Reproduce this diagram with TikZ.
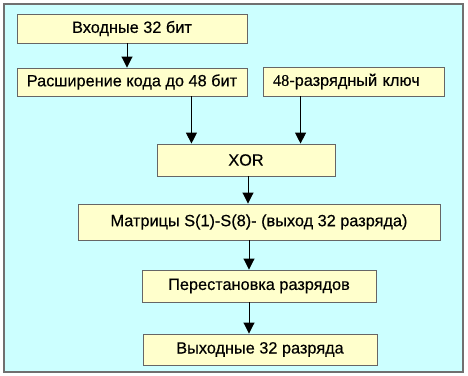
\documentclass[tikz,border=0pt]{standalone}
\usepackage{fontspec}
\setmainfont[FakeBold=0.4]{Liberation Sans}
\newfontfamily\serifnum[FakeBold=0.4]{Liberation Serif}
\usetikzlibrary{arrows.meta}
\definecolor{bgcyan}{HTML}{CCFFFF}
\definecolor{boxfill}{HTML}{FFFFCC}
\definecolor{boxline}{HTML}{666666}
\definecolor{frameline}{HTML}{707070}
\tikzset{
  blk/.style={draw=boxline, line width=0.9pt, fill=boxfill, inner sep=0pt,
    font=\fontsize{16.3}{19}\selectfont, text=black},
  arr/.style={draw=black, line width=0.9pt, -{Triangle[width=11pt,length=11pt]}}
}
\begin{document}
\begin{tikzpicture}[x=1pt,y=-1pt]
\useasboundingbox (0,0) rectangle (468,375);
\fill[white] (0,0) rectangle (468,375);
\draw[frameline, line width=2pt, fill=bgcyan] (3.5,4) rectangle (463,372);
\node[blk, minimum width=230pt, minimum height=29pt] (b1) at (132,28.5) {Входные 32 бит};
\node[blk, minimum width=230pt, minimum height=28pt] (b2) at (132,82) {Расширение кода до 48 бит};
\node[blk, minimum height=29pt, text width=161pt, inner xsep=10pt, align=left] (b3) at (353.5,81.5) {{\serifnum 48}-разрядный ключ};
\node[blk, minimum width=178pt, minimum height=32pt] (xor) at (246,160) {XOR};
\node[blk, minimum width=362pt, minimum height=36pt] (mat) at (259,222) {Матрицы S(1)-S(8)- (выход 32 разряда)};
\node[blk, minimum width=234pt, minimum height=32pt] (per) at (259,286) {Перестановка разрядов};
\node[blk, minimum width=234pt, minimum height=31pt] (out) at (260,349.5) {Выходные 32 разряда};
\draw[arr] ([xshift=-5pt]b1.south) -- ([xshift=-5pt]b1.south |- b2.north);
\draw[arr] ([xshift=-56pt]b2.south east) -- ([xshift=-56pt]b2.south east |- xor.north);
\draw[arr] ([xshift=38pt]b3.south west) -- ([xshift=38pt]b3.south west |- xor.north);
\draw[arr] ([xshift=2pt]xor.south) -- ([xshift=2pt]xor.south |- mat.north);
\draw[arr] ([xshift=-10pt]mat.south) -- ([xshift=-10pt]mat.south |- per.north);
\draw[arr] ([xshift=-10pt]per.south) -- ([xshift=-10pt]per.south |- out.north);
\end{tikzpicture}
\end{document}
